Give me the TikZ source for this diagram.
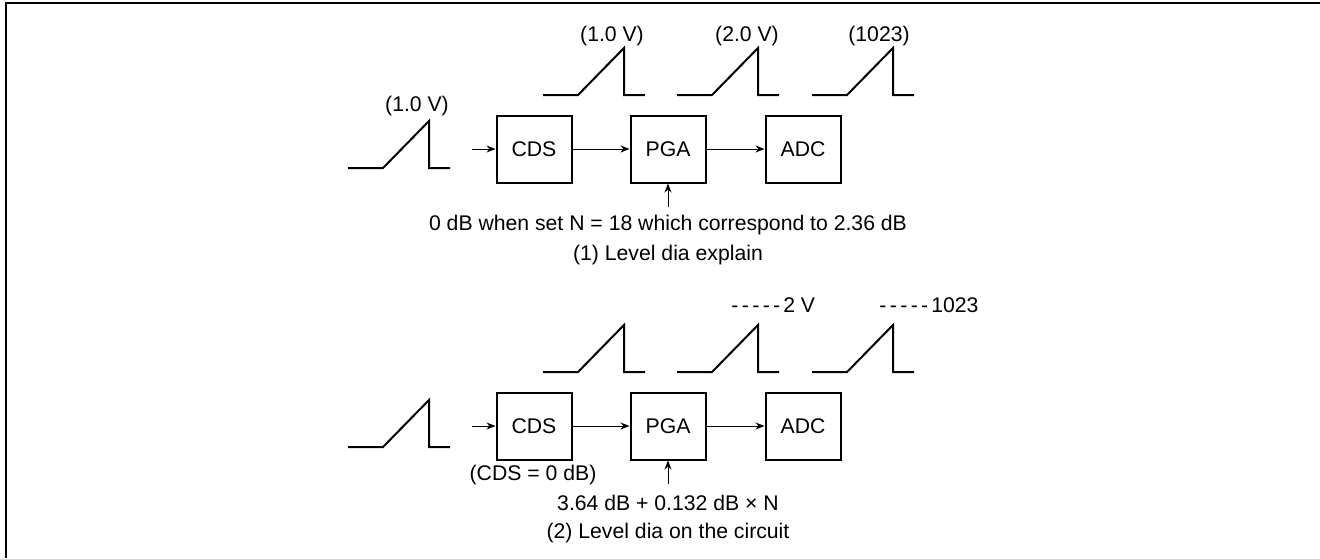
\documentclass[tikz,border=0pt]{standalone}
\usepackage{fontspec}
\setmainfont{Liberation Sans}
\usetikzlibrary{arrows.meta}

% One level diagram waveform, from its baseline start.
\newcommand\ramp[2]{\draw[wave] (#1,#2) -- ++(35,0) -- ++(46,-47) -- ++(0,47) -- ++(21,0);}
% Five spaced hyphens before a full scale level.
\newcommand\fsdashes{-\kern1.7pt-\kern1.7pt-\kern1.7pt-\kern1.7pt-\kern1.5pt}

\begin{document}
\begin{tikzpicture}[
        x=0.5pt, y=-0.5pt,
        every node/.style={inner sep=0, font=\fontsize{10.6}{12}\selectfont},
        block/.style={draw, line width=1pt, minimum width=37.5pt, minimum height=33.5pt},
        sig/.style={line width=0.5pt, -{Stealth[length=4.5pt,width=3.5pt]}},
        wave/.style={line width=1pt},
    ]
    \useasboundingbox (0,0) rectangle (1320,558);

    % Frame.
    \draw[line width=1.2pt] (6,558) -- (6,3) -- (1320,3);

    % Blocks of both diagrams.
    \foreach \n/\y in {1/149, 2/426}
    {
        \node[block] (cds\n) at (534,\y) {CDS};
        \node[block] (pga\n) at (668,\y) {PGA};
        \node[block] (adc\n) at (803,\y) {ADC};

        \coordinate (in\n) at (472,\y);

        \draw[sig] (in\n) -- (cds\n);
        \draw[sig] (cds\n) -- (pga\n);
        \draw[sig] (pga\n) -- (adc\n);
    }

    % Waveforms.
    \foreach \y in {168, 447}
    {
        \ramp{348}{\y}
    }
    \foreach \x in {543, 677, 812}
    \foreach \y in {95, 372}
    {
        \ramp{\x}{\y}
    }

    % (1) Level dia explain.
    \node (lvin) at (417,106) {(1.0 V)};
    \node (lvcds) at (612,36) {(1.0 V)};
    \node (lvpga) at (747,36) {(2.0 V)};
    \node (lvadc) at (879,36) {(1023)};

    \coordinate (gn1) at (668,207);
    \draw[sig] (gn1) -- (pga1);
    \node (gain1) at (668,225) {0 dB when set N = 18 which correspond to 2.36 dB};
    \node (cap1) at (668,255) {(1) Level dia explain};

    % (2) Level dia on the circuit.
    \node[anchor=west] (fspga) at (731,305) {\fsdashes2 V};
    \node[anchor=west] (fsadc) at (879,305) {\fsdashes1023};
    \node (cdsg) at (533,475) {(CDS = 0 dB)};

    \coordinate (gn2) at (668,484);
    \draw[sig] (gn2) -- (pga2);
    \node (gain2) at (668,503) {3.64 dB + 0.132 dB × N};
    \node (cap2) at (668,533) {(2) Level dia on the circuit};
\end{tikzpicture}
\end{document}
